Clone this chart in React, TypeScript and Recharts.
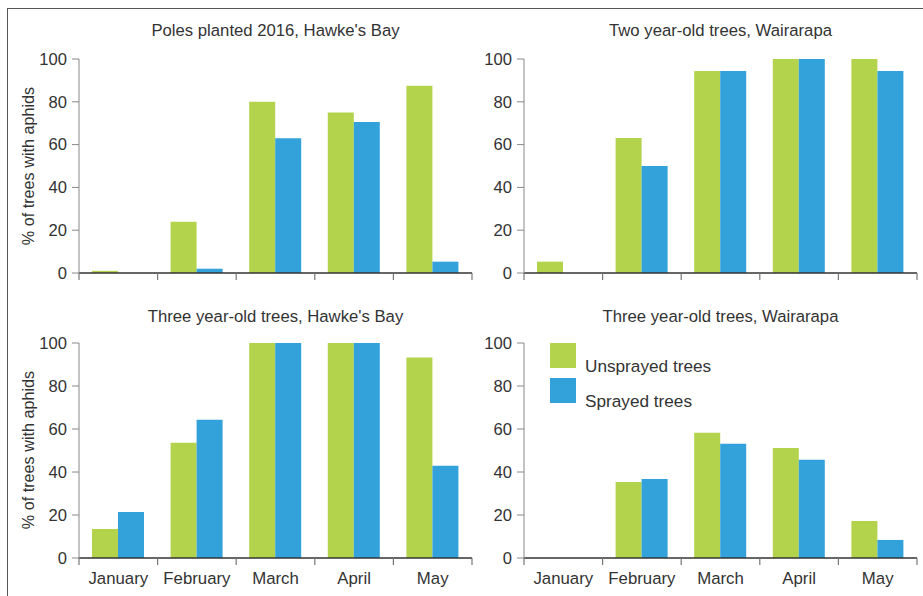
import React from 'react';
import { BarChart, Bar, XAxis, YAxis, Legend } from 'recharts';

const months = ['January', 'February', 'March', 'April', 'May'];
const yTicks = [0, 20, 40, 60, 80, 100];

const titles = [
  "Poles planted 2016, Hawke's Bay",
  'Two year-old trees, Wairarapa',
  "Three year-old trees, Hawke's Bay",
  'Three year-old trees, Wairarapa',
];
const yLabel = '% of trees with aphids';
const seriesNames = ['Unsprayed trees', 'Sprayed trees'];

const p1Unsprayed = [1, 24, 80, 75, 87.5];
const p1Sprayed = [0, 2, 63, 70.6, 5.3];
const p2Unsprayed = [5.3, 63.1, 94.4, 100, 100];
const p2Sprayed = [0, 50, 94.4, 100, 94.4];
const p3Unsprayed = [13.5, 53.6, 100, 100, 93.2];
const p3Sprayed = [21.4, 64.3, 100, 100, 42.9];
const p4Unsprayed = [0, 35.4, 58.2, 51.2, 17.2];
const p4Sprayed = [0, 36.8, 53.1, 45.7, 8.4];

const GREEN = '#B2D34B';
const BLUE = '#33A2DB';
const TEXT = '#333333';
const FONT = '"Liberation Sans", Arial, sans-serif';

const build = (u: number[], s: number[]) =>
  months.map((m, i) => ({ month: m, unsprayed: u[i], sprayed: s[i] }));

const LegendBox = (props: any) => {
  const payload = [...(props.payload || [])].sort(
    (a: any, b: any) => seriesNames.indexOf(a.value) - seriesNames.indexOf(b.value)
  );
  return (
    <svg width={220} height={70} style={{ display: 'block' }}>
      {payload.map((entry: any, i: number) => (
        <g key={i}>
          <rect x={0} y={i * 35} width={26} height={25} fill={entry.color} />
          <text x={35} y={i * 35 + 28.5} fontSize={17.2} fill={TEXT} fontFamily={FONT}>
            {entry.value}
          </text>
        </g>
      ))}
    </svg>
  );
};

const makeTick = (showLabel: boolean) => (props: any) => {
  const { x, y, payload, index, visibleTicksCount, width } = props;
  const n = visibleTicksCount || months.length;
  const band = width / n;
  const left = x - band / 2;
  const right = x + band / 2;
  return (
    <g>
      <line x1={left} x2={left} y1={y} y2={y + 7} stroke="#777" strokeWidth={1.2} />
      {index === n - 1 && (
        <line x1={right} x2={right} y1={y} y2={y + 7} stroke="#777" strokeWidth={1.2} />
      )}
      {showLabel && (
        <text
          x={x}
          y={y + 14}
          dy="0.71em"
          textAnchor="middle"
          fill={TEXT}
          fontSize={16.8}
          fontFamily={FONT}
        >
          {payload.value}
        </text>
      )}
    </g>
  );
};

type PanelProps = {
  left: number;
  top: number;
  width: number;
  height: number;
  margin: { top: number; right: number; bottom: number; left: number };
  axisHeight: number;
  data: any[];
  showXLabels: boolean;
  showLegend?: boolean;
};

const Panel = ({ left, top, width, height, margin, axisHeight, data, showXLabels, showLegend }: PanelProps) => (
  <div style={{ position: 'absolute', left, top, width, height }}>
    <BarChart width={width} height={height} data={data} margin={margin} barGap={0} barSize={26}>
      <XAxis
        dataKey="month"
        type="category"
        height={axisHeight}
        interval={0}
        axisLine={{ stroke: '#333', strokeWidth: 1.5 }}
        tickLine={false}
        tickSize={0}
        tickMargin={0}
        tick={makeTick(showXLabels)}
      />
      <YAxis
        domain={[0, 100]}
        ticks={yTicks}
        width={59}
        tickSize={7}
        tickMargin={5}
        axisLine={{ stroke: '#888' }}
        tickLine={{ stroke: '#888' }}
        tick={{ fill: TEXT, fontSize: 16.6, fontFamily: FONT }}
        interval={0}
      />
      {showLegend && (
        <Legend
          layout="vertical"
          align="center"
          verticalAlign="middle"
          wrapperStyle={{ left: 85, top: 53, width: 220 }}
          content={<LegendBox />}
        />
      )}
      <Bar dataKey="unsprayed" name={seriesNames[0]} fill={GREEN} isAnimationActive={false} />
      <Bar dataKey="sprayed" name={seriesNames[1]} fill={BLUE} isAnimationActive={false} />
    </BarChart>
  </div>
);

export default function App() {
  return (
    <div
      style={{
        position: 'absolute',
        left: 0,
        top: 0,
        width: 923,
        height: 596,
        background: '#fff',
        overflow: 'hidden',
        fontFamily: FONT,
      }}
    >
      <div
        style={{
          position: 'absolute',
          left: 7,
          top: 8,
          width: 930,
          height: 600,
          borderLeft: '1px solid #555',
          borderTop: '1px solid #555',
        }}
      />
      <Panel
        left={0}
        top={0}
        width={480}
        height={290}
        margin={{ top: 59, right: 8, bottom: 0, left: 20 }}
        axisHeight={17}
        data={build(p1Unsprayed, p1Sprayed)}
        showXLabels={false}
      />
      <Panel
        left={465}
        top={0}
        width={458}
        height={290}
        margin={{ top: 59, right: 6, bottom: 0, left: 0 }}
        axisHeight={17}
        data={build(p2Unsprayed, p2Sprayed)}
        showXLabels={false}
      />
      <Panel
        left={0}
        top={290}
        width={480}
        height={306}
        margin={{ top: 53, right: 8, bottom: 0, left: 20 }}
        axisHeight={38}
        data={build(p3Unsprayed, p3Sprayed)}
        showXLabels={true}
      />
      <Panel
        left={465}
        top={290}
        width={458}
        height={306}
        margin={{ top: 53, right: 6, bottom: 0, left: 0 }}
        axisHeight={38}
        data={build(p4Unsprayed, p4Sprayed)}
        showXLabels={true}
        showLegend={true}
      />
      <svg
        width={923}
        height={596}
        style={{ position: 'absolute', left: 0, top: 0, pointerEvents: 'none' }}
      >
        <g fill={TEXT} fontFamily={FONT} fontSize={16.7} textAnchor="middle">
          <text x={275.5} y={36}>{titles[0]}</text>
          <text x={720.5} y={36}>{titles[1]}</text>
          <text x={275.5} y={321.5}>{titles[2]}</text>
          <text x={720.5} y={321.5}>{titles[3]}</text>
          <text transform="translate(34,166) rotate(-90)" fontSize={16.2}>{yLabel}</text>
          <text transform="translate(34,450) rotate(-90)" fontSize={16.2}>{yLabel}</text>
        </g>
      </svg>
    </div>
  );
}
